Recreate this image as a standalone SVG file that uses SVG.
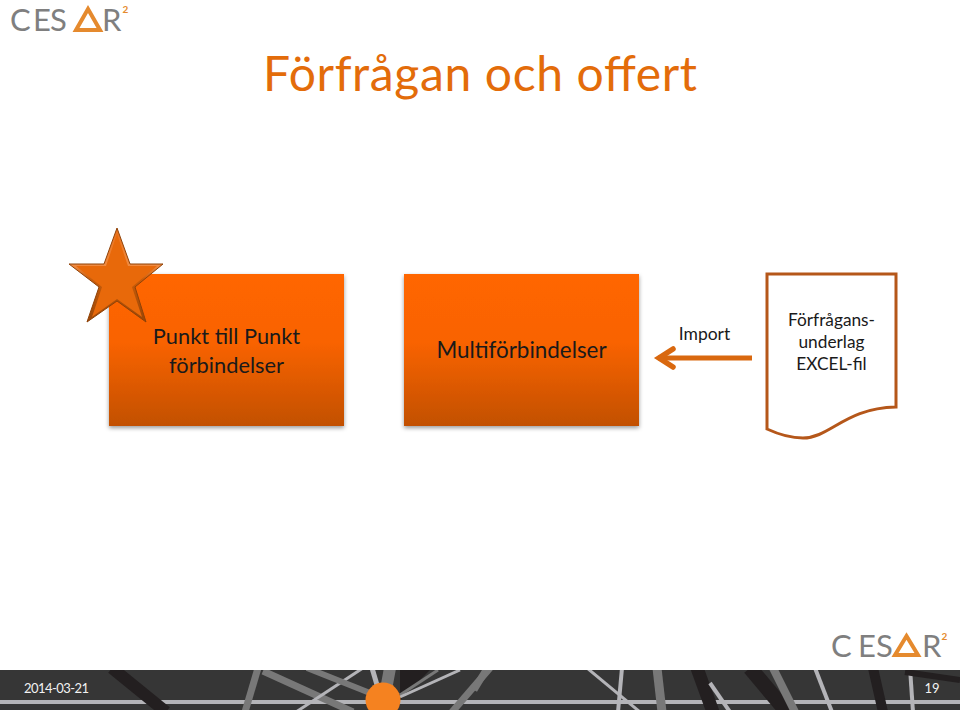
<svg xmlns="http://www.w3.org/2000/svg" width="960" height="710" viewBox="0 0 960 710">
<defs>
<linearGradient id="box" x1="0" y1="0" x2="0" y2="1"><stop offset="0" stop-color="#ff6600"/><stop offset="0.45" stop-color="#f96302"/><stop offset="1" stop-color="#c25000"/></linearGradient>
<linearGradient id="bevel" x1="0" y1="0" x2="0" y2="1"><stop offset="0" stop-color="#e8701a"/><stop offset="0.4" stop-color="#f08a40"/><stop offset="0.55" stop-color="#c85c0a"/><stop offset="1" stop-color="#9a4606"/></linearGradient>
<filter id="sh" x="-10%" y="-10%" width="120%" height="120%"><feDropShadow dx="0" dy="2" stdDeviation="2" flood-color="#000" flood-opacity="0.4"/></filter>
<clipPath id="band"><rect x="0" y="670" width="960" height="40"/></clipPath>
<marker id="arr" markerUnits="userSpaceOnUse" markerWidth="26" markerHeight="30" refX="21" refY="13" orient="auto"><path d="M6 4 L20 13 L6 22" fill="none" stroke="#d9680f" stroke-width="5.500" stroke-linecap="round"/></marker>
</defs>
<style>
text{font-family:Lato,"Liberation Sans",sans-serif}
.logo{fill:#7f7f7f;font-size:31px}
.sup{font-size:10px;font-weight:bold;fill:#e58a2e}
.dk{stroke:#231f20;fill:none}
.gr{stroke:#787878;fill:none}
.lt{stroke:#b4b4b8;fill:none}
</style>
<rect width="960" height="710" fill="#fff"/>
<g id="logo-top">
<text class="logo" x="10 33 50" y="31">CES</text>
<polygon points="88,9 100,30 76,30" fill="none" stroke="#e58a2e" stroke-width="4"/>
<text class="logo" x="102" y="31">R<tspan class="sup" dx="1" dy="-18">2</tspan></text>
</g>
<text id="title" x="263" y="91" font-size="48" fill="#e36c0a" textLength="434" lengthAdjust="spacing">Förfrågan och offert</text>
<g id="node-p2p">
<rect x="109" y="274" width="235" height="152" fill="url(#box)" filter="url(#sh)"/>
<text x="226.500" y="344" font-size="21.800" fill="#1a1a1a" text-anchor="middle">Punkt till Punkt</text>
<text x="226.500" y="373" font-size="21.800" fill="#1a1a1a" text-anchor="middle">förbindelser</text>
</g>
<g id="star">
<polygon points="117,228 130,264 163,264 135,287 146,322 117,301 87,322 99,287 69,264 104,264" fill="url(#bevel)" stroke="#8f4208" stroke-width="1"/>
<polygon points="117,234 128,266 157,266 132,287 142,317 117,299 92,317 102,287 76,266 106,266" fill="#e8690a"/>
</g>
<g id="node-multi">
<rect x="404" y="274" width="235" height="152" fill="url(#box)" filter="url(#sh)"/>
<text x="521.500" y="358" font-size="22.400" fill="#1a1a1a" text-anchor="middle">Multiförbindelser</text>
</g>
<g id="connectors">
<line x1="752" y1="358" x2="658" y2="358" stroke="#d9680f" stroke-width="5" marker-end="url(#arr)"/>
</g>
<text id="import" x="704.500" y="340" font-size="17.500" fill="#1a1a1a" text-anchor="middle">Import</text>
<g id="node-doc">
<path d="M767 274 H896 V407 C845 408 830 438 803 438 C790 438 780 435 767 429 Z" fill="#fff" stroke="#b5571a" stroke-width="3"/>
<text x="831.500" y="326" font-size="17.300" fill="#1a1a1a" text-anchor="middle">Förfrågans-</text>
<text x="831.500" y="348" font-size="17.300" fill="#1a1a1a" text-anchor="middle">underlag</text>
<text x="831.500" y="370" font-size="17.300" fill="#1a1a1a" text-anchor="middle">EXCEL-fil</text>
</g>
<g id="logo-bottom">
<text class="logo" x="831 858 876" y="657">CES</text>
<polygon points="906.500,636 918,655 895,655" fill="none" stroke="#e58a2e" stroke-width="4"/>
<text class="logo" x="922" y="657">R<tspan class="sup" dx="0" dy="-17">2</tspan></text>
</g>
<g id="footer">
<rect x="0" y="670" width="960" height="40" fill="#363636"/>
<g clip-path="url(#band)">
<path class="lt" stroke-width="4" d="M0 702 H960"/>
<path class="dk" stroke-width="12" d="M112 668 L166 712"/>
<path class="gr" stroke-width="7" d="M258 668 L245 712"/>
<path class="gr" stroke-width="7" d="M263 671 L353 712"/>
<path class="lt" stroke-width="3" d="M363 668 L296 712"/>
<path class="gr" stroke-width="6" d="M307 668 L375 695"/>
<path class="lt" stroke-width="5" d="M372 668 L380 695"/>
<path class="gr" stroke-width="12" d="M390 668 L385 695"/>
<path d="M400 670 H430 L400 700 Z" fill="#231f20"/>
<path class="gr" stroke-width="3" d="M438 670 L400 695"/>
<path class="lt" stroke-width="3" d="M460 670 L400 697"/>
<path class="gr" stroke-width="7" d="M490 668 L452 712"/>
<path class="gr" stroke-width="7" d="M486 670 L474 690"/>
<path class="lt" stroke-width="3" d="M587 668 L640 712"/>
<path class="lt" stroke-width="4" d="M622 668 L618 712"/>
<path class="gr" stroke-width="9" d="M657 668 L662 712"/>
<path class="dk" stroke-width="13" d="M697 668 L713 712"/>
<path class="lt" stroke-width="4" d="M710 683 L730 712"/>
<path class="dk" stroke-width="15" d="M750 668 L787 712"/>
<path class="gr" stroke-width="8" d="M773 668 L795 712"/>
<path class="lt" stroke-width="4" d="M815 668 L832 712"/>
<path class="dk" stroke-width="10" d="M873 668 L883 712"/>
<path class="lt" stroke-width="4" d="M910 668 L913 712"/>
<path class="dk" stroke-width="6" d="M905 672 L960 680"/>
<circle cx="383" cy="700" r="17.500" fill="#f58220"/>
</g>
<text x="24" y="693" font-size="13" fill="#f2f2f2" textLength="65">2014-03-21</text>
<text x="932" y="693" font-size="13" fill="#f2f2f2" text-anchor="middle">19</text>
</g>
</svg>
